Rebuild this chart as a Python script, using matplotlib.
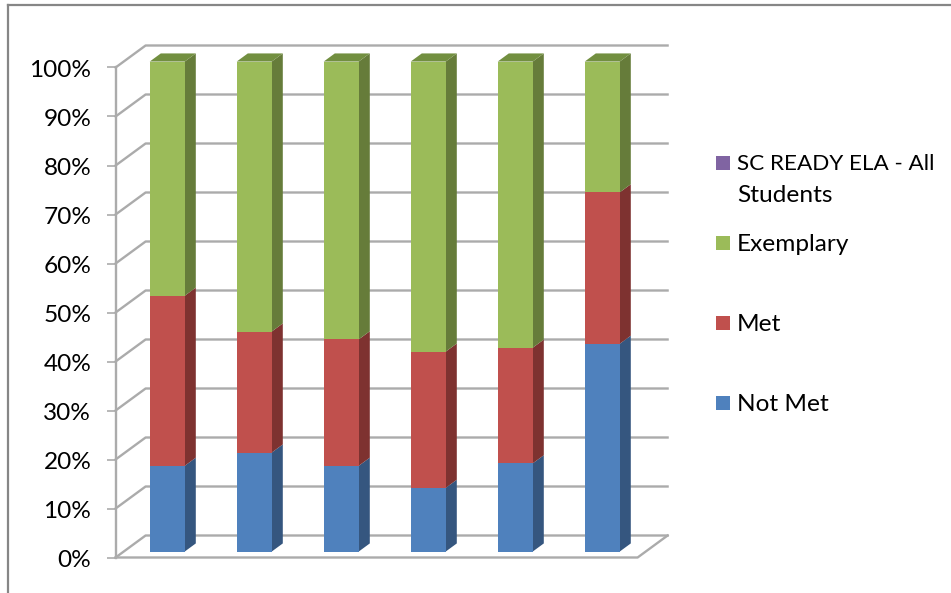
import matplotlib
matplotlib.use("Agg")
import matplotlib.pyplot as plt
from matplotlib.lines import Line2D
from matplotlib.patches import Rectangle
from matplotlib.transforms import ScaledTranslation
import numpy as np

plt.rcParams['font.family'] = ['Lato', 'DejaVu Sans']

# values, percent of students
not_met = [17.5, 20.2, 17.5, 13.0, 18.0, 42.4]
met = [34.7, 24.7, 25.8, 27.8, 23.6, 30.9]
exemplary = [47.8, 55.1, 56.7, 59.2, 58.4, 26.7]
tick_vals = [0, 10, 20, 30, 40, 50, 60, 70, 80, 90, 100]
tick_labels = [str(v) + "%" for v in tick_vals]
legend_labels = ["SC READY ELA - All\nStudents", "Exemplary", "Met", "Not Met"]

W, H = 951, 593
front_cols = ["#4F81BD", "#C0504D", "#9BBB59"]
side_cols = ["#35567F", "#7E3230", "#667C3A"]
top_col = "#728F40"
grid_col = "#ABABAB"

# fake 3D: depth 0 is the front of the floor, depth 1 the back wall
DX = 30 / 87.0   # category units per depth
DY = 22 / 4.9    # percent per depth
BAR_W = 35 / 87.0
D0, D1 = 0.27, 0.64


def proj(x, y, d):
    return x + d * DX, y + d * DY


fig = plt.figure(figsize=(W / 100, H / 100), dpi=100)
ax = fig.add_axes([115.6 / W, (H - 557.5) / H, 522 / W, 490 / H])
ax.set_xlim(-0.5, 5.5)
ax.set_ylim(0, 100)
ax.patch.set_visible(False)

# walls and floor
for v in tick_vals:
    x0, y0 = proj(-0.5, v, 0)
    x1, y1 = proj(-0.5, v, 1)
    x2, y2 = proj(5.5, v, 1)
    ax.plot([x0, x1, x2], [y0, y1, y2], color=grid_col, lw=1.7, clip_on=False, zorder=1)
x3, y3 = proj(5.5, 0, 0)
x4, y4 = proj(5.5, 0, 1)
ax.plot([-0.5, x3, x4], [0, y3, y4], color=grid_col, lw=1.7, clip_on=False, zorder=1)

# stacked columns
cats = np.arange(6)
bottom = np.zeros(6)
for k, vals in enumerate([not_met, met, exemplary]):
    vals = np.array(vals)
    for i in cats:
        lo = bottom[i]
        hi = lo + vals[i]
        xr = i + BAR_W / 2
        a = proj(xr, lo, D0)
        b = proj(xr, hi, D0)
        c = proj(xr, hi, D1)
        d = proj(xr, lo, D1)
        ax.fill([a[0], b[0], c[0], d[0]], [a[1], b[1], c[1], d[1]],
                color=side_cols[k], lw=0, clip_on=False, zorder=2)
    xs, ys = proj(cats, bottom, D0)
    ax.bar(xs, vals, BAR_W, bottom=ys, color=front_cols[k], lw=0, clip_on=False, zorder=3)
    bottom = bottom + vals

# green caps
for i in cats:
    xl = i - BAR_W / 2
    xr = i + BAR_W / 2
    p = [proj(xl, bottom[i], D0), proj(xr, bottom[i], D0),
         proj(xr, bottom[i], D1), proj(xl, bottom[i], D1)]
    ax.fill([q[0] for q in p], [q[1] for q in p], color=top_col, lw=0, clip_on=False, zorder=2)

ax.set_xticks([])
ax.set_yticks(tick_vals)
ax.set_yticklabels(tick_labels, fontsize=17.6, color="black")
ax.tick_params(axis="y", length=6.5, width=1.2, color=grid_col, pad=11)
nudge = ScaledTranslation(0, -0.8 / 72, fig.dpi_scale_trans)
for lab in ax.get_yticklabels():
    lab.set_transform(lab.get_transform() + nudge)
for s in ["top", "right", "bottom"]:
    ax.spines[s].set_visible(False)
ax.spines["left"].set_color(grid_col)
ax.spines["left"].set_linewidth(1.7)

# legend, placed by hand like the office one
# the all-caps first line runs wide in Lato, so it gets a smaller size
leg_cols = ["#8064A2", "#9BBB59", "#C0504D", "#4F81BD"]
leg_y = [163, 243, 323, 403]
for lab, col, y in zip(legend_labels, leg_cols, leg_y):
    fig.add_artist(Rectangle((716 / W, (H - y - 7) / H), 14 / W, 14 / H,
                             transform=fig.transFigure, color=col, lw=0))
    for j, t in enumerate(lab.split("\n")):
        size = 16.2 if t.startswith("SC") else 17.6
        fig.text(737 / W, (H - y - 1.5 - 31 * j) / H, t, fontsize=size, va="center", color="black")

# frame of the chart area
fig.add_artist(Line2D([8 / W, 1], [(H - 5) / H, (H - 5) / H], color="#868686", lw=1.6))
fig.add_artist(Line2D([8 / W, 8 / W], [0, (H - 5) / H], color="#868686", lw=1.6))

fig.savefig("out.png", dpi=100)
